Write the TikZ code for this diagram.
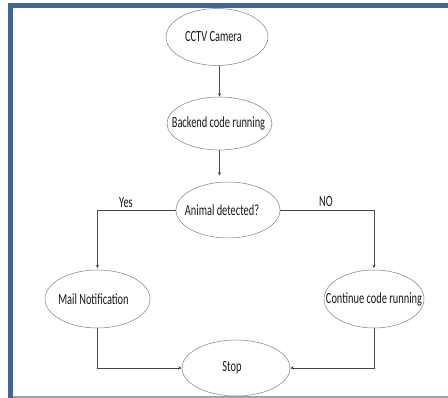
\documentclass[tikz,border=0pt]{standalone}
\usepackage{fontspec}
\usepackage{graphicx}
\setmainfont{Carlito}
\usetikzlibrary{shapes.geometric,arrows.meta}
\definecolor{frameblue}{HTML}{41669A}
\definecolor{framegrey}{HTML}{9BA3B4}
\newcommand\sqztext[2]{\makebox[0pt]{\scalebox{0.67}[1]{#1}\hspace{#2}}}
\begin{document}
\begin{tikzpicture}[x=1pt,y=-1pt,
  flow/.style={ellipse, draw=black!50, line width=0.5pt, inner sep=0pt,
    font=\fontsize{15.5}{18}\selectfont, text=black!90},
  conn/.style={draw=black!72, line width=0.5pt, -{Stealth[length=3.5pt,width=3pt]}},
  lbl/.style={font=\fontsize{15.5}{18}\selectfont, text=black!90, inner sep=0pt}]
\useasboundingbox (0,0) rectangle (448,398);
\fill[white] (0,0) rectangle (448,398);
\fill[frameblue] (8,3) rectangle (448,8);
\fill[frameblue] (8,3) rectangle (13,398);
\fill[framegrey] (13,396.5) rectangle (448,398);

\node[flow, minimum width=102pt, minimum height=57pt] (cctv) at (217,37) {\sqztext{CCTV Camera}{7pt}};
\node[flow, minimum width=105pt, minimum height=53pt] (backend) at (219.5,123.5) {\sqztext{Backend code running}{2pt}};
\node[flow, minimum width=104pt, minimum height=56pt] (animal) at (228,210) {\sqztext{Animal detected?}{12pt}};
\node[flow, minimum width=105pt, minimum height=58pt] (mail) at (97.5,299) {\sqztext{Mail Notification}{8pt}};
\node[flow, minimum width=100pt, minimum height=58pt] (cont) at (374,299) {\sqztext{Continue code running}{0pt}};
\node[flow, minimum width=108pt, minimum height=56pt] (stop) at (236,368) {\sqztext{Stop}{8pt}};

\node[lbl] (yes) at (126,203) {\scalebox{0.67}[1]{Yes}};
\node[lbl] (no) at (326,202) {\scalebox{0.67}[1]{NO}};

\draw[conn] (cctv.south -| backend.north) -- (backend.north);
\draw[conn, shorten >=6pt] (backend.south) -- (backend.south |- animal.north);
\draw[conn, shorten >=1.5pt] (animal.west) -| (mail.north);
\draw[conn, shorten >=1.5pt] (animal.east) -| (cont.north);
\draw[conn] (mail.south) |- (stop.west);
\draw[conn] (cont.south) |- (stop.east);
\end{tikzpicture}
\end{document}
